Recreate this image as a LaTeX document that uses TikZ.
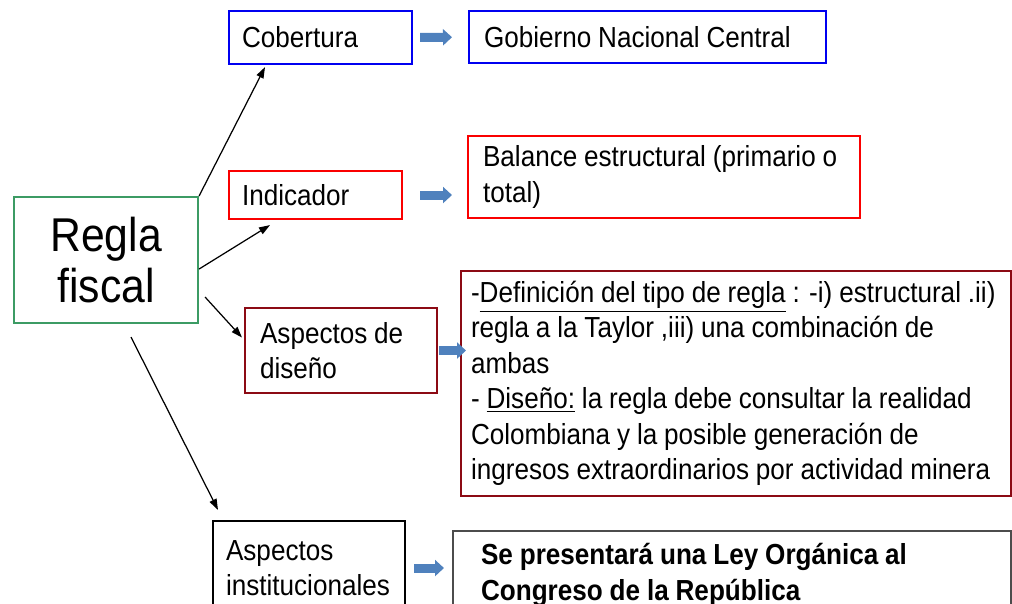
\documentclass[tikz,border=0pt]{standalone}
\usepackage{fontspec}
\setmainfont{Liberation Sans}[FakeStretch=0.9,WordSpace=0.95]
\usepackage{tikz}
\usetikzlibrary{arrows,arrows.meta,calc,positioning}
\definecolor{azul}{RGB}{0,0,240}
\definecolor{rojo}{RGB}{250,0,0}
\definecolor{granate}{RGB}{140,10,20}
\definecolor{verde}{RGB}{60,155,100}
\definecolor{flechaazul}{RGB}{79,129,189}

\begin{document}
\begin{tikzpicture}[
    x=0.02cm,
    y=-0.02cm,
    >={Triangle[length=2.2mm,width=1.5mm]},
    font=\fontsize{16.5}{20.2}\selectfont,
    caja/.style={
		rectangle,
		draw=black,
		line width=1.2pt,
		anchor=north west,
		align=left,
		execute at begin node={\spaceskip=0pt\xspaceskip=0pt},
		inner ysep=0pt,
		fill=white
	},
	flecha/.style={
		draw=flechaazul,
		line width=0.18cm,
		-{Triangle[length=0.18cm,width=0.32cm]}
	},
	linea/.style={
		->,
		line width=0.7pt
	}
  ]
  \clip (0,0) rectangle (1012,604);

    % We start by placing the blocks
  \node [caja, draw=verde, align=center, minimum width=3.68cm, minimum height=2.52cm,
    font=\fontsize{27}{29}\selectfont] (regla) at (13,196) {Regla\\fiscal};

  \node [caja, draw=azul, minimum width=3.66cm, minimum height=1.06cm,
    text width=3.14cm] (cobertura) at (228,10) {Cobertura};

  \node [caja, draw=azul, minimum width=7.14cm, minimum height=1.04cm,
    text width=6.54cm] (gobierno) at (468,10) {Gobierno Nacional Central};

  \node [caja, draw=rojo, minimum width=3.46cm, minimum height=0.96cm,
    text width=2.94cm] (indicador) at (228,170) {Indicador};

  \node [caja, draw=rojo, minimum width=7.84cm, minimum height=1.64cm,
    text width=7.24cm] (balance) at (467,135)
 {Balance estructural (primario o\\total)};

  \node [caja, draw=granate, minimum width=3.84cm, minimum height=1.70cm,
    text width=3.24cm] (diseno) at (244,307) {Aspectos de\\diseño};

  \node [caja, draw=granate, minimum width=11.0cm, minimum height=4.5cm,
    text width=10.6cm] (definicion) at (460,270)
 {%
  -\underline{Definición del tipo de regla} : -i) estructural .ii)\\
  regla a la Taylor ,iii) una combinación de\\
  ambas\\
  - \underline{Diseño:} la regla debe consultar la realidad\\
  Colombiana y la posible generación de\\
  ingresos extraordinarios por actividad minera
 };

  \node [caja, minimum width=3.84cm, minimum height=1.88cm,
    text width=3.32cm] (institucional) at (212,520) {Aspectos\\institucionales};

  \node [caja, draw=black!70, minimum width=11.16cm, minimum height=1.76cm,
    text width=10.04cm, font=\fontsize{16.5}{20.2}\selectfont\bfseries] (ley) at (452,530)
 {Se presentará una Ley Orgánica al\\Congreso de la República};

 % block arrows
 \draw [flecha, shorten <=0.14cm, shorten >=0.32cm] (cobertura.east) -- (gobierno.west);
 \draw [flecha, shorten <=0.34cm, shorten >=0.30cm] (indicador.east) -- (indicador.east -| balance.west);
 \draw [flecha, shorten <=0.02cm, shorten >=-0.12cm] (diseno.east) -- (diseno.east -| definicion.west);
 \draw [flecha, shorten <=0.16cm, shorten >=0.16cm] (institucional.east) -- (institucional.east -| ley.west);

 % thin arrows
 \draw [linea] (regla.north east) -- ($(cobertura.south west)+(37,2)$);
 \draw [linea] ($(regla.east)+(0,9)$) -- ($(indicador.south west)+(42,5)$);
 \draw [linea] ($(regla.east)+(6,37)$) -- ($(diseno.west)+(-2,-13)$);
 \draw [linea] ($(regla.south)+(25,13)$) -- ($(institucional.north west)+(6,-10)$);

\end{tikzpicture}
\end{document}
